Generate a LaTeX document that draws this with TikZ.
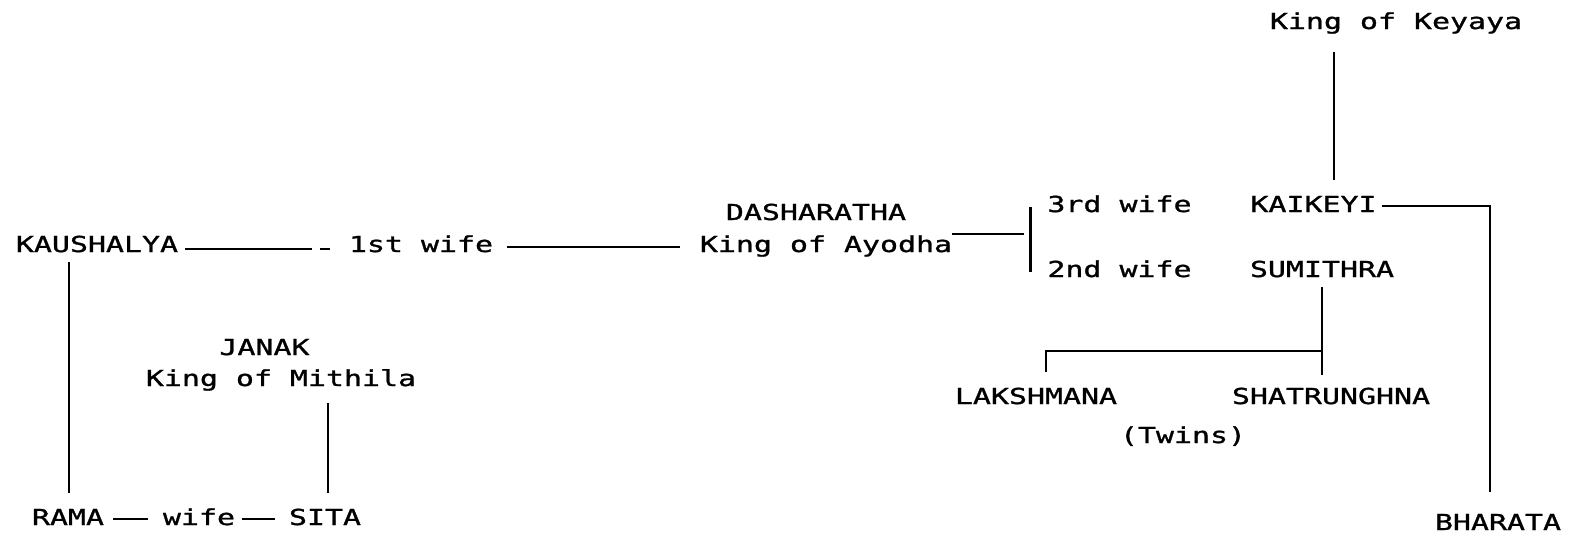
\documentclass[tikz,border=0pt]{standalone}
\usepackage{fontspec}
\usetikzlibrary{calc}
\newfontfamily\dm[FakeStretch=1.36,FakeBold=1.2]{DejaVu Sans Mono}
\begin{document}
\begin{tikzpicture}[x=0.5pt,y=-0.5pt,
  lbl/.style={inner sep=0pt, anchor=base, font=\dm\fontsize{11}{13}\selectfont},
  ln/.style={line width=1.1pt}]
\useasboundingbox (0,0) rectangle (1569,536);
% nodes
\node[lbl] (keyaya) at (1396,29) {King of Keyaya};
\node[lbl] (dasha) at (816,220) {DASHARATHA};
\node[lbl] (ayodha) at (826,252) {King of Ayodha};
\node[lbl] (wife3) at (1119.5,212) {3rd wife};
\node[lbl] (kaikeyi) at (1313.5,212) {KAIKEYI};
\node[lbl] (wife2) at (1119.5,277) {2nd wife};
\node[lbl] (sumithra) at (1322,277) {SUMITHRA};
\node[lbl] (kaush) at (97,252) {KAUSHALYA};
\node[lbl] (wife1) at (421,252) {1st wife};
\node[lbl] (janak) at (264.5,355) {JANAK};
\node[lbl] (mithila) at (281,386) {King of Mithila};
\node[lbl] (lakshmana) at (1036,404) {LAKSHMANA};
\node[lbl] (shatru) at (1331,404) {SHATRUNGHNA};
\node[lbl] (twins) at (1183,443) {(Twins)};
\node[lbl] (rama) at (68,525) {RAMA};
\node[lbl] (wifer) at (199,525) {wife};
\node[lbl] (sita) at (325,525) {SITA};
\node[lbl] (bharata) at (1498,530) {BHARATA};
% connectors
\draw[ln] ($(keyaya.base)+(-62,23)$) -- ($(kaikeyi.base)+(20.5,-32)$);
\draw[ln] ($(kaikeyi.base)+(68,-6)$) -| ($(bharata.base)+(-8,-38)$);
\draw[ln] ($(ayodha.base)+(126,-18)$) -- ($(ayodha.base)+(198,-18)$);
\draw[ln] ($(wife3.base)+(-89,-5)$) -- ($(wife2.base)+(-89,-5)$);
\draw[ln] ($(sumithra.base)+(0,10)$) -- ($(shatru.base)+(-9,-29)$);
\draw[ln] ($(sumithra.base)+(0,74)$) -| ($(lakshmana.base)+(10,-32)$);
\draw[ln] ($(kaush.base)+(88,-3)$) -- ($(kaush.base)+(215,-3)$);
\draw[ln] ($(kaush.base)+(223,-3)$) -- ($(kaush.base)+(233,-3)$);
\draw[ln] ($(wife1.base)+(86,-5)$) -- ($(ayodha.base)+(-146,-5)$);
\draw[ln] ($(kaush.base)+(-28,10)$) -- ($(rama.base)+(1,-32)$);
\draw[ln] ($(mithila.base)+(47,17)$) -- ($(sita.base)+(3,-32)$);
\draw[ln] ($(rama.base)+(45,-6)$) -- ($(wifer.base)+(-51,-6)$);
\draw[ln] ($(wifer.base)+(43,-6)$) -- ($(sita.base)+(-50,-6)$);
\end{tikzpicture}
\end{document}
